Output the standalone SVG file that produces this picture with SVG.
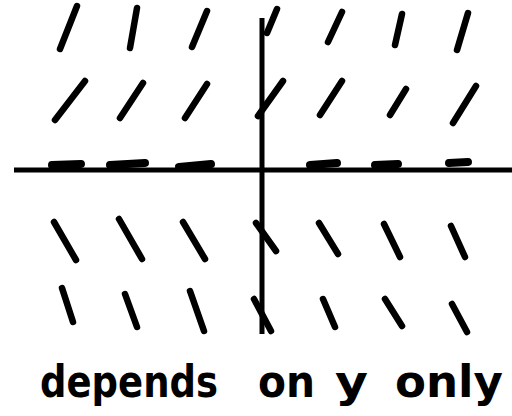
<svg xmlns="http://www.w3.org/2000/svg" width="512" height="416" viewBox="0 0 512 416">
<style>
.s{stroke:#000;stroke-width:6.5;stroke-linecap:round;fill:none}
.h{stroke-width:8}
.ax{stroke:#000;stroke-width:5;fill:none}
.t{font-family:"DejaVu Sans","Liberation Sans",sans-serif;font-weight:bold;font-size:44px;fill:#000}
</style>
<rect width="512" height="416" fill="#fff"/>
<g id="axes">
<line class="ax" x1="14" y1="170" x2="512" y2="170"/>
<line class="ax" x1="262" y1="18" x2="262" y2="334"/>
</g>
<g id="slopes">
<line class="s" x1="60" y1="49" x2="77" y2="6"/>
<line class="s" x1="130" y1="48" x2="137" y2="8"/>
<line class="s" x1="192" y1="47" x2="207" y2="11"/>
<line class="s" x1="267" y1="33" x2="277" y2="9"/>
<line class="s" x1="328" y1="42" x2="342" y2="12"/>
<line class="s" x1="395" y1="45" x2="402" y2="14"/>
<line class="s" x1="457" y1="50" x2="468" y2="13"/>

<line class="s" x1="55" y1="120" x2="85" y2="81"/>
<line class="s" x1="120" y1="118" x2="143" y2="83"/>
<line class="s" x1="185" y1="118" x2="207" y2="84"/>
<line class="s" x1="258" y1="116" x2="283" y2="81"/>
<line class="s" x1="320" y1="115" x2="342" y2="81"/>
<line class="s" x1="390" y1="115" x2="406" y2="89"/>
<line class="s" x1="453" y1="123" x2="476" y2="86"/>

<line class="s h" x1="52" y1="165" x2="81" y2="164"/>
<line class="s h" x1="110" y1="165" x2="145" y2="163"/>
<line class="s h" x1="179" y1="167" x2="211" y2="164"/>
<line class="s h" x1="310" y1="165" x2="337" y2="163"/>
<line class="s h" x1="375" y1="165" x2="398" y2="164"/>
<line class="s h" x1="449" y1="163" x2="468" y2="162"/>

<line class="s" x1="54" y1="222" x2="76" y2="260"/>
<line class="s" x1="119" y1="219" x2="142" y2="259"/>
<line class="s" x1="183" y1="222" x2="205" y2="259"/>
<line class="s" x1="256" y1="223" x2="276" y2="251"/>
<line class="s" x1="319" y1="223" x2="338" y2="254"/>
<line class="s" x1="384" y1="224" x2="400" y2="257"/>
<line class="s" x1="451" y1="226" x2="465" y2="257"/>

<line class="s" x1="62" y1="288" x2="73" y2="322"/>
<line class="s" x1="125" y1="294" x2="137" y2="327"/>
<line class="s" x1="190" y1="291" x2="204" y2="331"/>
<line class="s" x1="254" y1="299" x2="271" y2="331"/>
<line class="s" x1="323" y1="299" x2="335" y2="327"/>
<line class="s" x1="385" y1="299" x2="402" y2="326"/>
<line class="s" x1="452" y1="304" x2="467" y2="332"/>
</g>
<g id="label">
<text class="t" x="40" y="397" textLength="178" lengthAdjust="spacingAndGlyphs">depends</text>
<text class="t" x="258" y="397" textLength="57" lengthAdjust="spacingAndGlyphs">on</text>
<text class="t" x="335" y="397" textLength="33" lengthAdjust="spacingAndGlyphs">y</text>
<text class="t" x="395" y="397" textLength="108" lengthAdjust="spacingAndGlyphs">only</text>
</g>
</svg>
